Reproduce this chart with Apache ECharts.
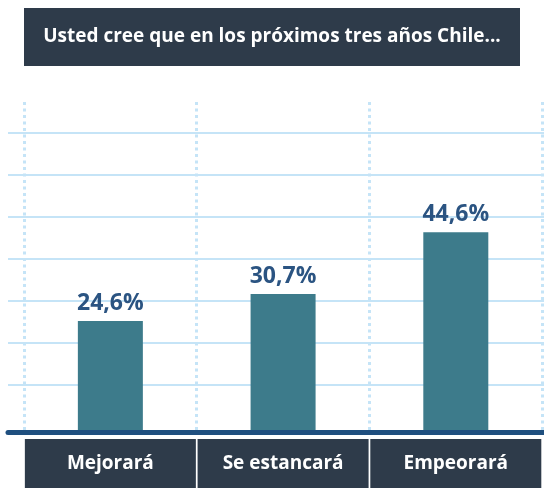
<!DOCTYPE html>
<html>
<head>
<meta charset="utf-8">
<script src="https://cdn.jsdelivr.net/npm/echarts@6/dist/echarts.min.js"></script>
<style>
  * { margin: 0; padding: 0; }
  body { background: #fff; }
  #chart { width: 544px; height: 488px; }
</style>
</head>
<body>
<div id="chart"></div>
<script>
// datos
var titulo = 'Usted cree que en los próximos tres años Chile...';
var categorias = ['Mejorará', 'Se estancará', 'Empeorará'];
var porcentajes = [24.6, 30.7, 44.6];

var chart = echarts.init(document.getElementById('chart'));

chart.setOption({
  animation: false,
  title: {
    left: 24,
    top: 8,
    padding: 0,
    text: '{t|' + titulo + '}',
    textStyle: {
      rich: {
        t: {
          width: 496,
          height: 58,
          lineHeight: 58,
          align: 'center',
          backgroundColor: '#2e3b4a',
          color: '#fff',
          fontFamily: 'Open Sans',
          fontWeight: 'bold',
          fontSize: 19
        }
      }
    }
  },
  grid: [
    // lineas horizontales + eje
    { left: 8, right: 0, top: 133, bottom: 61 },
    // barras
    { left: 24, right: 0, top: 102, bottom: 58 }
  ],
  xAxis: [
    {
      gridIndex: 0,
      type: 'value',
      min: 0,
      max: 1,
      offset: 5,
      axisLine: { show: true, onZero: false, lineStyle: { color: '#1f4f7f', width: 5 } },
      axisTick: { show: false },
      axisLabel: { show: false },
      splitLine: { show: false }
    },
    {
      gridIndex: 1,
      type: 'category',
      data: categorias,
      axisLine: { show: false },
      axisTick: { show: false },
      splitLine: {
        show: true,
        lineStyle: { color: '#c5e4f7', width: 3, type: [3, 3.5] }
      },
      axisLabel: {
        margin: 9,
        width: 171,
        height: 49,
        lineHeight: 49,
        align: 'center',
        backgroundColor: '#2e3b4a',
        color: '#fff',
        fontFamily: 'Open Sans',
        fontWeight: 'bold',
        fontSize: 19
      }
    }
  ],
  yAxis: [
    {
      gridIndex: 0,
      type: 'value',
      min: 0,
      max: 7,
      interval: 1,
      axisLine: { show: false },
      axisTick: { show: false },
      axisLabel: { show: false },
      splitLine: {
        show: true,
        showMinLine: false,
        lineStyle: { color: '#c5e4f7', width: 2 }
      }
    },
    {
      gridIndex: 1,
      type: 'value',
      min: 0,
      max: 74,
      axisLine: { show: false },
      axisTick: { show: false },
      axisLabel: { show: false },
      splitLine: { show: false }
    }
  ],
  series: [{
    type: 'bar',
    xAxisIndex: 1,
    yAxisIndex: 1,
    data: porcentajes,
    barWidth: 65,
    itemStyle: { color: '#3d7b8b' },
    label: {
      show: true,
      position: 'top',
      distance: 6,
      color: '#2b5482',
      fontFamily: 'Open Sans',
      fontWeight: 'bold',
      fontSize: 23,
      formatter: function (p) {
        return p.value.toFixed(1).replace('.', ',') + '%';
      }
    }
  }]
});
</script>
</body>
</html>
